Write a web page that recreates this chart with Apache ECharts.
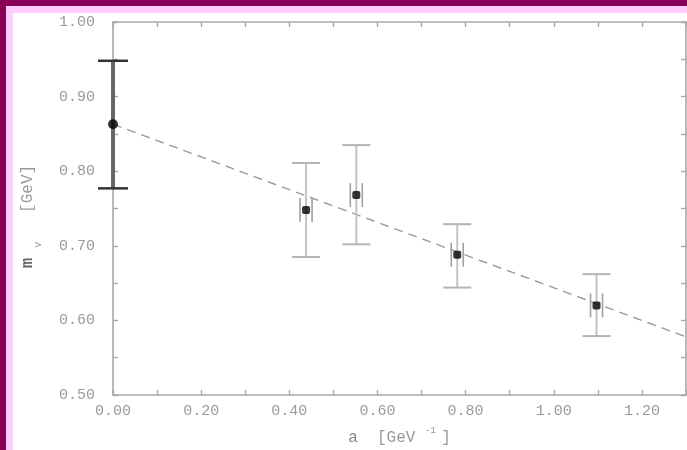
<!DOCTYPE html>
<html>
<head>
<meta charset="utf-8">
<script src="https://cdn.jsdelivr.net/npm/echarts@6/dist/echarts.min.js"></script>
<style>
  html, body { margin: 0; padding: 0; background: #fff; }
  #chart { width: 687px; height: 450px; }
</style>
</head>
<body>
<div id="chart"></div>
<script>
// Continuum-extrapolated vector mass (a = 0)
const continuumA = [0.00];
const continuumMass = [0.863];
const continuumUpper = [0.948];
const continuumLower = [0.777];

// Lattice results at finite spacing
const latticeA = [0.438, 0.552, 0.781, 1.097];
const latticeMass = [0.748, 0.768, 0.688, 0.620];
const latticeUpper = [0.811, 0.835, 0.729, 0.662];
const latticeLower = [0.685, 0.702, 0.644, 0.579];
const latticeStat = [0.016, 0.016, 0.016, 0.016];

// Linear fit in a
const fitA = [0.00, 1.30];
const fitMass = [0.863, 0.578];

// Axis tick labels
const xTickLabels = ['0.00', '0.20', '0.40', '0.60', '0.80', '1.00', '1.20'];
const yTickLabels = ['0.50', '0.60', '0.70', '0.80', '0.90', '1.00'];

const MONO = '"Liberation Mono", "DejaVu Sans Mono", monospace';
const AXIS_GREY = '#a8a8a8';
const LABEL_GREY = '#9a9a9a';

function labelFor(list, value) {
  const hit = list.find(s => Math.abs(parseFloat(s) - value) < 1e-6);
  return hit === undefined ? '' : hit;
}

function errorBarRenderer(opts) {
  return function (params, api) {
    const x = api.value(0);
    const lo = api.value(1);
    const hi = api.value(2);
    const y = api.value(3);
    const stat = api.value(4);
    const top = api.coord([x, hi]);
    const bot = api.coord([x, lo]);
    const children = [
      { type: 'line', shape: { x1: top[0], y1: top[1], x2: bot[0], y2: bot[1] },
        style: { stroke: opts.bar, lineWidth: opts.barWidth } },
      { type: 'line', shape: { x1: top[0] - opts.cap, y1: top[1], x2: top[0] + opts.cap, y2: top[1] },
        style: { stroke: opts.capColor, lineWidth: opts.capWidth } },
      { type: 'line', shape: { x1: bot[0] - opts.cap, y1: bot[1], x2: bot[0] + opts.cap, y2: bot[1] },
        style: { stroke: opts.capColor, lineWidth: opts.capWidth } }
    ];
    if (stat > 0) {
      const sTop = api.coord([x, y + stat]);
      const sBot = api.coord([x, y - stat]);
      [-6, 6].forEach(dx => {
        children.push({ type: 'line',
          shape: { x1: sTop[0] + dx, y1: sTop[1], x2: sBot[0] + dx, y2: sBot[1] },
          style: { stroke: '#a0a0a0', lineWidth: 1.6 } });
      });
    }
    return { type: 'group', children: children };
  };
}

const chart = echarts.init(document.getElementById('chart'), null, { renderer: 'canvas' });

const X_RANGE = { type: 'value', min: 0, max: 1.3, interval: 0.1 };
const Y_RANGE = { type: 'value', min: 0.5, max: 1.0, interval: 0.05 };

// Closed frame: every side carries inward ticks; only bottom and left are labelled.
function frameAxis(range, position, label) {
  return Object.assign({}, range, {
    position: position,
    axisLine: { show: true, onZero: false, lineStyle: { color: AXIS_GREY, width: 1.6 } },
    axisTick: { show: true, inside: true, length: 5, lineStyle: { color: AXIS_GREY, width: 1.4 } },
    splitLine: { show: false },
    axisLabel: label || { show: false }
  });
}

const xMain = frameAxis(X_RANGE, 'bottom', {
  margin: 9, color: LABEL_GREY, fontFamily: MONO, fontSize: 15,
  formatter: v => labelFor(xTickLabels, v)
});
Object.assign(xMain, {
  name: '{a|a}  {u|[GeV }{s|-1 }{u|]}',
  nameLocation: 'middle',
  nameGap: 31,
  nameTextStyle: {
    color: LABEL_GREY, fontFamily: MONO, fontSize: 16,
    rich: {
      a: { fontFamily: MONO, fontSize: 16, color: '#888', lineHeight: 24 },
      u: { fontFamily: MONO, fontSize: 16, color: '#999', lineHeight: 24 },
      s: { fontFamily: MONO, fontSize: 9, color: '#999', lineHeight: 9, verticalAlign: 'top' }
    }
  }
});

const yMain = frameAxis(Y_RANGE, 'left', {
  margin: 18, color: LABEL_GREY, fontFamily: MONO, fontSize: 15,
  formatter: v => labelFor(yTickLabels, v)
});
Object.assign(yMain, {
  name: '{m|m }{v|v}   {u|[GeV]}',
  nameLocation: 'middle',
  nameRotate: 90,
  nameGap: 70,
  nameTextStyle: {
    fontFamily: MONO, fontSize: 16, color: '#999',
    padding: [0, 16, 0, 0],
    rich: {
      m: { fontFamily: MONO, fontSize: 17, fontWeight: 'bold', color: '#666', lineHeight: 30 },
      v: { fontFamily: MONO, fontSize: 10, color: '#999', lineHeight: 9, verticalAlign: 'bottom' },
      u: { fontFamily: MONO, fontSize: 16, color: '#999', lineHeight: 30 }
    }
  }
});

chart.setOption({
  animation: false,
  backgroundColor: '#ffffff',
  graphic: [
    { type: 'rect', left: 0, top: 0, shape: { width: 687, height: 13 }, style: { fill: '#ffccfb' }, silent: true },
    { type: 'rect', left: 0, top: 0, shape: { width: 13, height: 450 }, style: { fill: '#ffccfb' }, silent: true },
    { type: 'rect', left: 0, top: 0, shape: { width: 687, height: 6 }, style: { fill: '#870057' }, silent: true },
    { type: 'rect', left: 0, top: 0, shape: { width: 6, height: 450 }, style: { fill: '#870057' }, silent: true }
  ],
  grid: { left: 113, right: 1, top: 22, bottom: 55, containLabel: false, outerBoundsMode: 'none' },
  xAxis: [ xMain, frameAxis(X_RANGE, 'top') ],
  yAxis: [ yMain, frameAxis(Y_RANGE, 'right') ],
  series: [
    {
      name: 'fit',
      type: 'line',
      data: fitA.map((a, i) => [a, fitMass[i]]),
      showSymbol: false,
      symbol: 'none',
      lineStyle: { color: '#9a9a9a', width: 1.4, type: [9, 6] },
      z: 2
    },
    {
      name: 'lattice errors',
      type: 'custom',
      renderItem: errorBarRenderer({ bar: '#c4c4c4', barWidth: 2, capColor: '#b4b4b4', capWidth: 2, cap: 14 }),
      data: latticeA.map((a, i) => [a, latticeLower[i], latticeUpper[i], latticeMass[i], latticeStat[i]]),
      encode: { x: 0, y: [1, 2] },
      z: 3
    },
    {
      name: 'continuum error',
      type: 'custom',
      renderItem: errorBarRenderer({ bar: '#666666', barWidth: 4, capColor: '#333333', capWidth: 2.5, cap: 15 }),
      data: continuumA.map((a, i) => [a, continuumLower[i], continuumUpper[i], continuumMass[i], 0]),
      encode: { x: 0, y: [1, 2] },
      z: 3
    },
    {
      name: 'lattice',
      type: 'scatter',
      data: latticeA.map((a, i) => [a, latticeMass[i]]),
      symbol: 'roundRect',
      symbolSize: 8,
      itemStyle: { color: '#000' },
      z: 5
    },
    {
      name: 'continuum',
      type: 'scatter',
      data: continuumA.map((a, i) => [a, continuumMass[i]]),
      symbol: 'circle',
      symbolSize: 10,
      itemStyle: { color: '#000' },
      z: 5
    }
  ]
});
</script>
</body>
</html>
